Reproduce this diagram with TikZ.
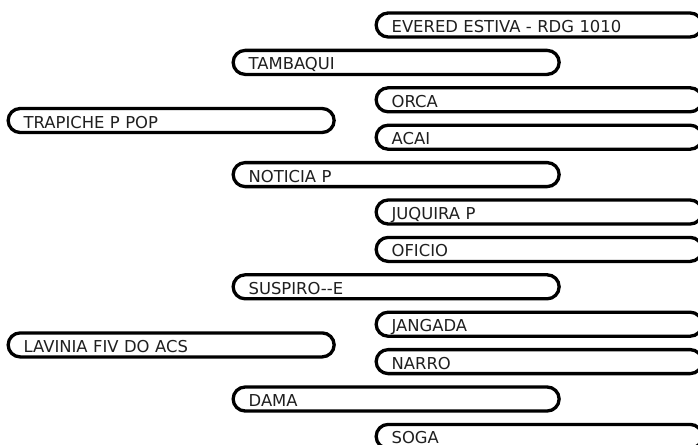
\documentclass[tikz,border=0pt]{standalone}
\usepackage{fontspec}
\setmainfont{DejaVu Sans}
\begin{document}
\begin{tikzpicture}[x=1pt,y=-1pt,
  item/.style={draw=black, line width=3.3pt, rounded corners=12pt, fill=white,
    minimum height=24pt, minimum width=326pt, inner xsep=15.5pt, inner ysep=0pt,
    text width=295pt, align=left, text height=15pt, text depth=0pt,
    anchor=west, font=\fontsize{16.4}{19}\selectfont, text=black!88}]
\useasboundingbox (0,0) rectangle (698,444);
\fill[white] (0,0) rectangle (698,444);
\begin{scope}
\clip (0,0) rectangle (698,444);
\def\ry#1{25+37.4*#1}
\node[item] (evered)   at (374.5,{\ry{0}}) {EVERED ESTIVA - RDG 1010};
\node[item] (tambaqui) at (231.5,{\ry{1}}) {TAMBAQUI};
\node[item] (orca)     at (374.5,{\ry{2}}) {ORCA};
\node[item] (trapiche) at (6.5,{\ry{2.5}+2}) {TRAPICHE P POP};
\node[item] (acai)     at (374.5,{\ry{3}}) {ACAI};
\node[item] (noticia)  at (231.5,{\ry{4}}) {NOTICIA P};
\node[item] (juquira)  at (374.5,{\ry{5}}) {JUQUIRA P};
\node[item] (oficio)   at (374.5,{\ry{6}}) {OFICIO};
\node[item] (suspiro)  at (231.5,{\ry{7}}) {SUSPIRO-{}-E};
\node[item] (jangada)  at (374.5,{\ry{8}}) {JANGADA};
\node[item] (lavinia)  at (6.5,{\ry{8.5}+2}) {LAVINIA FIV DO ACS};
\node[item] (narro)    at (374.5,{\ry{9}}) {NARRO};
\node[item] (dama)     at (231.5,{\ry{10}}) {DAMA};
\node[item] (soga)     at (374.5,{\ry{11}}) {SOGA};
\end{scope}
\end{tikzpicture}
\end{document}
